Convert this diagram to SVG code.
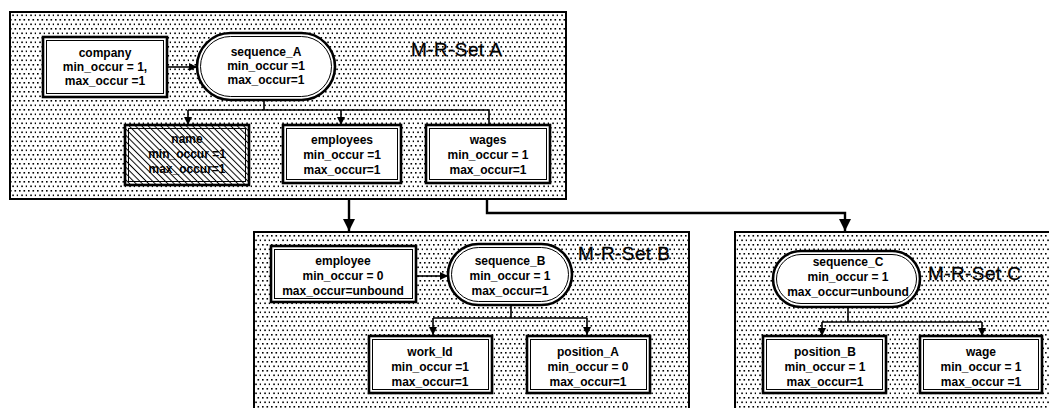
<svg xmlns="http://www.w3.org/2000/svg" width="1049" height="408" viewBox="0 0 1049 408">
<style>
.set{fill:url(#dots);stroke:#000;stroke-width:2}
.ob{fill:#fff;stroke:#000;stroke-width:2.6}
.ib{fill:none;stroke:#000;stroke-width:1}
.t{font-family:"Liberation Sans",Arial,sans-serif;font-size:12px;font-weight:bold;text-anchor:middle;fill:#000}
.lbl{font-family:"Liberation Sans",Arial,sans-serif;font-size:19px;letter-spacing:0.4px;fill:#000;stroke:#000;stroke-width:0.3}
.c{fill:none;stroke:#000;stroke-width:1.6}
.c2{fill:none;stroke:#000;stroke-width:2.4}
</style>
<defs>
<pattern id="dots" width="9" height="9" patternUnits="userSpaceOnUse">
<rect width="9" height="9" fill="#fff"/>
<rect x="1" y="1" width="1.6" height="1.6" fill="#000"/>
<rect x="5.5" y="1" width="1.6" height="1.6" fill="#000"/>
<rect x="3.25" y="5.5" width="1.6" height="1.6" fill="#000"/>
<rect x="7.75" y="5.5" width="1.6" height="1.6" fill="#000"/>
</pattern>
<pattern id="hatch" width="4.5" height="4.5" patternUnits="userSpaceOnUse" patternTransform="rotate(45)">
<rect width="4.5" height="4.5" fill="#fff"/>
<line x1="0" y1="2.25" x2="4.5" y2="2.25" stroke="#000" stroke-width="1"/>
</pattern>
<marker id="ah" viewBox="0 0 10 10" refX="10" refY="5" markerWidth="8" markerHeight="8" markerUnits="userSpaceOnUse" orient="auto">
<path d="M0,0 L10,5 L0,10 z" fill="#000"/>
</marker>
<marker id="ah2" viewBox="0 0 10 10" refX="10" refY="5" markerWidth="12" markerHeight="12" markerUnits="userSpaceOnUse" orient="auto">
<path d="M0,0 L10,5 L0,10 z" fill="#000"/>
</marker>
</defs>

<g id="setA">
<rect class="set" x="10" y="12" width="556" height="187"/>
<text class="lbl" x="411" y="56">M-R-Set A</text>
</g>
<g id="setB">
<rect class="set" x="254" y="232" width="435" height="180"/>
<text class="lbl" x="578" y="260">M-R-Set B</text>
</g>
<g id="setC">
<rect class="set" x="735" y="232" width="320" height="180"/>
<text class="lbl" x="928" y="280">M-R-Set C</text>
</g>

<g id="connectors">
<line class="c" x1="167" y1="67" x2="197" y2="67" marker-end="url(#ah)"/>
<polyline class="c" points="264,100 264,110"/>
<polyline class="c" points="188,110 489,110 489,125"/>
<line class="c" x1="188" y1="110" x2="188" y2="125" marker-end="url(#ah)"/>
<line class="c" x1="341" y1="110" x2="341" y2="125" marker-end="url(#ah)"/>
<line class="c2" x1="349" y1="199" x2="349" y2="231" marker-end="url(#ah2)"/>
<polyline class="c2" points="487,199 487,213 845,213 845,231" marker-end="url(#ah2)"/>
<line class="c" x1="416" y1="276" x2="448" y2="276" marker-end="url(#ah)"/>
<polyline class="c" points="511,305 511,318"/>
<polyline class="c" points="433,318 587,318"/>
<line class="c" x1="433" y1="318" x2="433" y2="335" marker-end="url(#ah)"/>
<line class="c" x1="587" y1="318" x2="587" y2="335" marker-end="url(#ah)"/>
<polyline class="c" points="848,307 848,322"/>
<polyline class="c" points="822,322 982,322"/>
<line class="c" x1="822" y1="322" x2="822" y2="336" marker-end="url(#ah)"/>
<line class="c" x1="982" y1="322" x2="982" y2="336" marker-end="url(#ah)"/>
</g>

<g id="company">
<rect class="ob" x="43" y="37" width="124" height="60"/>
<rect class="ib" x="46.5" y="40.5" width="117" height="53"/>
<text class="t" x="105" y="57">company</text>
<text class="t" x="105" y="71">min_occur = 1,</text>
<text class="t" x="105" y="85">max_occur =1</text>
</g>
<g id="sequence_A">
<rect class="ob" x="197" y="33" width="138" height="67" rx="33.5"/>
<rect class="ib" x="200.5" y="36.5" width="131" height="60" rx="30"/>
<text class="t" x="266" y="56">sequence_A</text>
<text class="t" x="266" y="70">min_occur =1</text>
<text class="t" x="266" y="84">max_occur=1</text>
</g>
<g id="name">
<rect class="ob" x="125" y="125" width="124" height="60" style="fill:url(#hatch)"/>
<rect class="ib" x="128.5" y="128.5" width="117" height="53"/>
<text class="t" x="187" y="143">name</text>
<text class="t" x="187" y="158">min_occur =1</text>
<text class="t" x="187" y="173">max_occur=1</text>
</g>
<g id="employees">
<rect class="ob" x="283" y="125" width="118" height="58"/>
<rect class="ib" x="286.5" y="128.5" width="111" height="51"/>
<text class="t" x="342" y="144">employees</text>
<text class="t" x="342" y="159">min_occur =1</text>
<text class="t" x="342" y="174">max_occur=1</text>
</g>
<g id="wages">
<rect class="ob" x="426" y="125" width="124" height="58"/>
<rect class="ib" x="429.5" y="128.5" width="117" height="51"/>
<text class="t" x="488" y="144">wages</text>
<text class="t" x="488" y="159">min_occur = 1</text>
<text class="t" x="488" y="174">max_occur=1</text>
</g>

<g id="employee">
<rect class="ob" x="271" y="246" width="145" height="56"/>
<rect class="ib" x="274.5" y="249.5" width="138" height="49"/>
<text class="t" x="343" y="265">employee</text>
<text class="t" x="343" y="280">min_occur = 0</text>
<text class="t" x="343" y="295">max_occur=unbound</text>
</g>
<g id="sequence_B">
<rect class="ob" x="448" y="244" width="124" height="61" rx="30.5"/>
<rect class="ib" x="451.5" y="247.5" width="117" height="54" rx="27"/>
<text class="t" x="510" y="265">sequence_B</text>
<text class="t" x="510" y="280">min_occur = 1</text>
<text class="t" x="510" y="295">max_occur=1</text>
</g>
<g id="work_Id">
<rect class="ob" x="369" y="336" width="123" height="57"/>
<rect class="ib" x="372.5" y="339.5" width="116" height="50"/>
<text class="t" x="430" y="356">work_Id</text>
<text class="t" x="430" y="371">min_occur =1</text>
<text class="t" x="430" y="386">max_occur=1</text>
</g>
<g id="position_A">
<rect class="ob" x="527" y="336" width="123" height="57"/>
<rect class="ib" x="530.5" y="339.5" width="116" height="50"/>
<text class="t" x="588" y="356">position_A</text>
<text class="t" x="588" y="371">min_occur = 0</text>
<text class="t" x="588" y="386">max_occur=1</text>
</g>

<g id="sequence_C">
<rect class="ob" x="773" y="251" width="147" height="56" rx="28"/>
<rect class="ib" x="776.5" y="254.5" width="140" height="49" rx="24.5"/>
<text class="t" x="848" y="266">sequence_C</text>
<text class="t" x="848" y="281">min_occur = 1</text>
<text class="t" x="848" y="296">max_occur=unbound</text>
</g>
<g id="position_B">
<rect class="ob" x="763" y="336" width="123" height="57"/>
<rect class="ib" x="766.5" y="339.5" width="116" height="50"/>
<text class="t" x="825" y="356">position_B</text>
<text class="t" x="825" y="371">min_occur = 1</text>
<text class="t" x="825" y="386">max_occur=1</text>
</g>
<g id="wage">
<rect class="ob" x="920" y="336" width="122" height="57"/>
<rect class="ib" x="923.5" y="339.5" width="115" height="50"/>
<text class="t" x="981" y="356">wage</text>
<text class="t" x="981" y="371">min_occur = 1</text>
<text class="t" x="981" y="386">max_occur =1</text>
</g>
</svg>
